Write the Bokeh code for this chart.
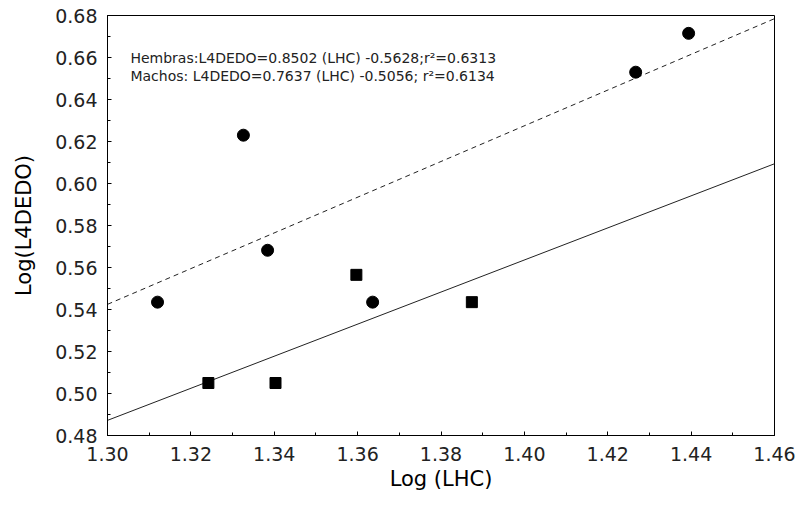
from bokeh.plotting import figure
from bokeh.models import SingleIntervalTicker, NumeralTickFormatter, Range1d, Label
from bokeh.embed import file_html
from bokeh.resources import INLINE

# Data
hembras_x = [1.312, 1.3326, 1.3384, 1.3636, 1.4267, 1.4394]
hembras_y = [0.5435, 0.6230, 0.5682, 0.5435, 0.6530, 0.6715]
machos_x = [1.3242, 1.3403, 1.3597, 1.3874]
machos_y = [0.5050, 0.5050, 0.5565, 0.5435]

# Regression coefficients printed on the chart
hembras_slope, hembras_intercept = 0.8502, -0.5628
machos_slope, machos_intercept = 0.7637, -0.5056
line_x = [1.30, 1.46]
hembras_line_y = [hembras_slope * v + hembras_intercept for v in line_x]
machos_line_y = [machos_slope * v + machos_intercept for v in line_x]

eq_lines = [
    "Hembras:L4DEDO=0.8502 (LHC) -0.5628;r\u00b2=0.6313",
    "Machos: L4DEDO=0.7637 (LHC) -0.5056; r\u00b2=0.6134",
]

FONT = "DejaVu Sans"

p = figure(width=801, height=507, output_backend="svg", toolbar_location=None,
           x_range=Range1d(1.30, 1.46), y_range=Range1d(0.48, 0.68),
           min_border_left=107, min_border_right=27, min_border_top=15, min_border_bottom=72)
p.background_fill_color = "white"
p.border_fill_color = "white"
p.outline_line_color = "black"
p.outline_line_width = 1
p.xgrid.visible = False
p.ygrid.visible = False

p.xaxis.ticker = SingleIntervalTicker(interval=0.02, num_minor_ticks=2)
p.yaxis.ticker = SingleIntervalTicker(interval=0.02, num_minor_ticks=2)
p.xaxis.formatter = NumeralTickFormatter(format="0.00")
p.yaxis.formatter = NumeralTickFormatter(format="0.00")

for ax in (p.xaxis, p.yaxis):
    ax.axis_line_color = "black"
    ax.major_tick_in = 4
    ax.major_tick_out = 0
    ax.minor_tick_in = 3
    ax.minor_tick_out = 0
    ax.major_tick_line_color = "black"
    ax.minor_tick_line_color = "black"
    ax.major_label_text_font = FONT
    ax.major_label_text_font_size = "19px"
    ax.major_label_text_color = "#222222"
    ax.axis_label_text_font = FONT
    ax.axis_label_text_font_size = "21px"
    ax.axis_label_text_font_style = "normal"
    ax.axis_label_text_color = "black"

p.xaxis.axis_label = "Log (LHC)"
p.yaxis.axis_label = "Log(L4DEDO)"
p.xaxis.major_label_standoff = 11
p.yaxis.major_label_standoff = 10
p.xaxis.axis_label_standoff = 3
p.yaxis.axis_label_standoff = 16

p.line(line_x, hembras_line_y, line_color="#222222", line_width=1, line_dash="5 4")
p.line(line_x, machos_line_y, line_color="#222222", line_width=1)

p.scatter(hembras_x, hembras_y, marker="circle", size=12, fill_color="black", line_color="black")
p.scatter(machos_x, machos_y, marker="square", size=11, fill_color="black", line_color="black")

eq_y = [0.6600, 0.6514]
for txt, yy in zip(eq_lines, eq_y):
    p.add_layout(Label(x=1.3055, y=yy, text=txt, text_font=FONT, text_font_size="14px",
                       text_baseline="alphabetic", text_color="#222222"))

open("out.html", "w").write(file_html(p, INLINE))
